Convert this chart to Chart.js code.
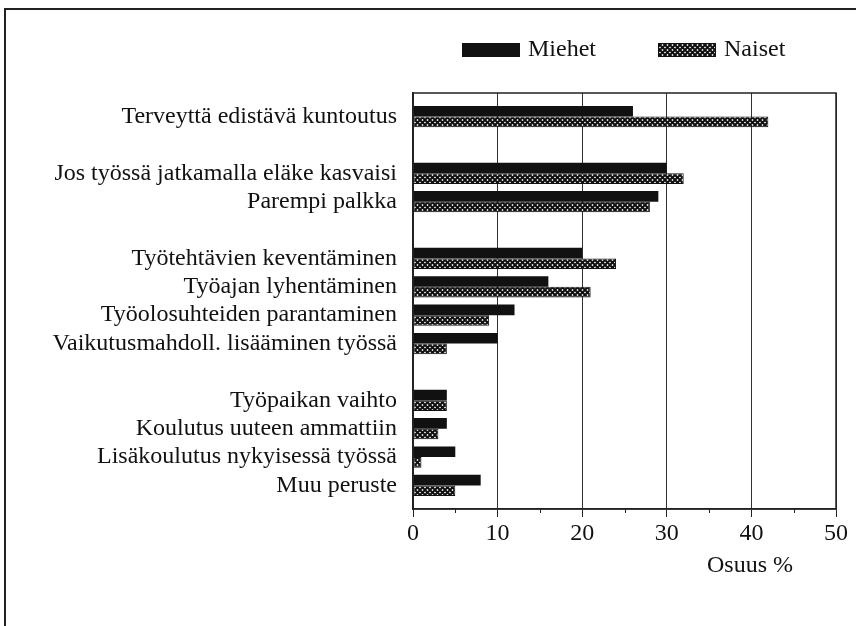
<!DOCTYPE html>
<html>
<head>
<meta charset="utf-8">
<script src="https://cdn.jsdelivr.net/npm/chart.js@4.4.1/dist/chart.umd.min.js"></script>
<style>
  html, body { margin: 0; padding: 0; background: #fff; overflow: hidden; }
  .frame { position: absolute; left: 4px; top: 8px; width: 1000px; height: 1000px; border: 2px solid #222; }
  .wrap { position: absolute; left: 0; top: 0; width: 856px; height: 626px; }
</style>
</head>
<body>
<div class="frame"></div>
<div class="wrap"><canvas id="chart" width="856" height="626"></canvas></div>
<script>
// rows, blank strings are the gaps between groups
const categories = [
  "Terveyttä edistävä kuntoutus",
  "",
  "Jos työssä jatkamalla eläke kasvaisi",
  "Parempi palkka",
  "",
  "Työtehtävien keventäminen",
  "Työajan lyhentäminen",
  "Työolosuhteiden parantaminen",
  "Vaikutusmahdoll. lisääminen työssä",
  "",
  "Työpaikan vaihto",
  "Koulutus uuteen ammattiin",
  "Lisäkoulutus nykyisessä työssä",
  "Muu peruste"
]
const miehet = [26, null, 30, 29, null, 20, 16, 12, 10, null, 4, 4, 5, 8]
const naiset = [42, null, 32, 28, null, 24, 21, 9, 4, null, 4, 3, 1, 5]
const seriesNames = ["Miehet", "Naiset"]
const xMinorTicks = [5, 15, 25, 35, 45]
const xTitle = "Osuus %"

const serif = "'Liberation Serif', 'Times New Roman', serif"
const ink = "#111"

// cross-hatch fill for Naiset
function hatch() {
  const c = document.createElement("canvas")
  c.width = 5
  c.height = 5
  const g = c.getContext("2d")
  g.fillStyle = "#fff"
  g.fillRect(0, 0, 5, 5)
  g.strokeStyle = "#111"
  g.lineWidth = 2
  for (const o of [-5, 0, 5]) {
    g.beginPath()
    g.moveTo(o, 0); g.lineTo(o + 5, 5)
    g.moveTo(o, 5); g.lineTo(o + 5, 0)
    g.stroke()
  }
  return g.createPattern(c, "repeat")
}

function toPoints(arr) {
  return arr.map((v, i) => ({ x: v, y: i })).filter(p => p.x !== null)
}

Chart.defaults.font.family = serif
Chart.defaults.font.size = 24
Chart.defaults.color = ink

const decor = {
  id: "decor",
  afterDraw(chart) {
    const ctx = chart.ctx
    const a = chart.chartArea
    const xs = chart.scales.x
    ctx.save()
    // plot box
    ctx.strokeStyle = "#222"
    ctx.lineWidth = 1.5
    ctx.strokeRect(a.left, a.top, a.right - a.left, a.bottom - a.top)
    // minor ticks
    ctx.lineWidth = 1
    ctx.beginPath()
    xMinorTicks.forEach(v => {
      const px = Math.round(xs.getPixelForValue(v)) + 0.5
      ctx.moveTo(px, a.bottom)
      ctx.lineTo(px, a.bottom + 4)
    })
    ctx.stroke()
    // axis title
    ctx.fillStyle = ink
    ctx.font = "24px " + serif
    ctx.textAlign = "right"
    ctx.textBaseline = "middle"
    ctx.fillText(xTitle, 793, 566)
    // legend
    const boxes = [[462, 528], [658, 724]]
    chart.data.datasets.forEach((ds, i) => {
      const [bx, tx] = boxes[i]
      ctx.fillStyle = ds.backgroundColor
      ctx.fillRect(bx, 43, 57, 13)
      ctx.strokeStyle = "#111"
      ctx.lineWidth = 1
      ctx.strokeRect(bx + 0.5, 43.5, 57, 13)
      ctx.fillStyle = ink
      ctx.textAlign = "left"
      ctx.fillText(ds.label, tx, 50)
    })
    ctx.restore()
  }
}

new Chart(document.getElementById("chart"), {
  type: "bar",
  plugins: [decor],
  data: {
    datasets: [
      {
        label: seriesNames[0],
        data: toPoints(miehet),
        backgroundColor: "#111",
        borderColor: "#111",
        borderWidth: 0,
        categoryPercentage: 0.75,
        barPercentage: 1
      },
      {
        label: seriesNames[1],
        data: toPoints(naiset),
        backgroundColor: hatch(),
        borderColor: "#111",
        borderWidth: 1,
        borderSkipped: false,
        categoryPercentage: 0.75,
        barPercentage: 1
      }
    ]
  },
  options: {
    indexAxis: "y",
    responsive: false,
    animation: false,
    layout: { padding: { top: 93, right: 20, left: 0, bottom: 0 } },
    plugins: {
      legend: { display: false },
      tooltip: { enabled: false }
    },
    scales: {
      x: {
        type: "linear",
        min: 0,
        max: 50,
        ticks: { stepSize: 10, padding: 2, color: ink },
        grid: { color: "#333", lineWidth: 1, tickLength: 8, tickColor: "#222" },
        border: { color: "#222", width: 1.5 },
        afterFit: s => { s.height = 117 }
      },
      y: {
        type: "linear",
        reverse: true,
        offset: false,
        min: -0.83,
        max: 13.83,
        afterBuildTicks: s => { s.ticks = categories.map((_, i) => ({ value: i })) },
        ticks: {
          padding: 16,
          color: ink,
          autoSkip: false,
          callback: v => categories[v] || ""
        },
        grid: { display: false, drawTicks: false, offset: false },
        border: { color: "#222", width: 1.5 },
        afterFit: s => { s.width = 413 }
      }
    }
  }
})
</script>
</body>
</html>
